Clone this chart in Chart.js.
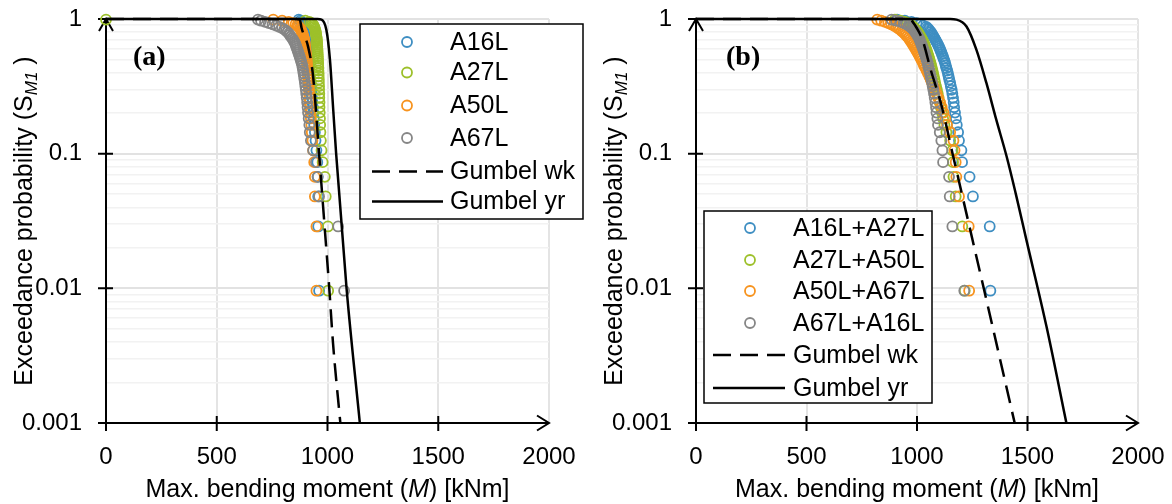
<!DOCTYPE html>
<html>
<head>
<meta charset="utf-8">
<title>Exceedance probability of max. bending moment</title>
<script src="https://cdn.jsdelivr.net/npm/chart.js@4.4.1/dist/chart.umd.min.js"></script>
<style>
  html, body { margin: 0; padding: 0; background: #fff; }
  #wrap { position: relative; width: 1172px; height: 504px; overflow: hidden; }
  canvas { position: absolute; top: 0; }
</style>
</head>
<body>
<div id="wrap">
  <canvas id="chartA" width="590" height="504" style="left:0"></canvas>
  <canvas id="chartB" width="582" height="504" style="left:590px"></canvas>
</div>
<script>
// plotting position of each ranked maximum (same for every series)
const exceed = [0.0096, 0.0288, 0.0481, 0.0673, 0.0865, 0.1058, 0.1250, 0.1442, 0.1635, 0.1827,
  0.2019, 0.2212, 0.2404, 0.2596, 0.2788, 0.2981, 0.3173, 0.3365, 0.3558, 0.3750,
  0.3942, 0.4135, 0.4327, 0.4519, 0.4712, 0.4904, 0.5096, 0.5288, 0.5481, 0.5673,
  0.5865, 0.6058, 0.6250, 0.6442, 0.6635, 0.6827, 0.7019, 0.7212, 0.7404, 0.7596,
  0.7788, 0.7981, 0.8173, 0.8365, 0.8558, 0.8750, 0.8942, 0.9135, 0.9327, 0.9519,
  0.9712, 0.9904];

const xTicks = [0, 500, 1000, 1500, 2000];
const yTicks = [0.001, 0.01, 0.1, 1];

// panel (a): max. bending moment [kNm], same order as exceed
const a16L = [962, 958, 958, 956, 954, 950, 946, 943, 940, 938, 936, 934, 932, 930, 928, 926, 924, 922, 920, 918,
  916, 914, 913, 912, 911, 910, 909, 908, 907, 906, 905, 904, 903, 902, 901, 900, 899, 898, 897, 896,
  895, 894, 893, 892, 891, 890, 889, 887, 885, 882, 878, 870];
const a27L = [1003, 1002, 992, 988, 978, 973, 970, 968, 967, 966, 965, 964, 964, 963, 963, 962, 962, 961, 961, 960,
  960, 959, 959, 958, 958, 957, 957, 956, 956, 955, 955, 954, 954, 953, 953, 952, 952, 951, 950, 949,
  948, 947, 946, 944, 942, 940, 937, 933, 927, 918, 900, 0];
const a50L = [950, 950, 943, 943, 940, 935, 932, 929, 927, 925, 923, 921, 919, 918, 917, 916, 915, 914, 913, 912,
  911, 910, 909, 908, 907, 906, 905, 904, 903, 902, 901, 900, 899, 898, 897, 896, 895, 893, 891, 889,
  887, 885, 882, 879, 875, 870, 864, 856, 845, 825, 795, 755];
const a67L = [1075, 1048, 962, 955, 948, 935, 925, 920, 918, 915, 912, 910, 908, 906, 904, 902, 900, 898, 896, 894,
  892, 890, 888, 886, 883, 880, 877, 874, 871, 868, 865, 862, 859, 856, 853, 849, 845, 840, 835, 830,
  826, 820, 813, 805, 795, 782, 768, 752, 735, 718, 700, 686];

// panel (b): two locations combined
const a16a27 = [1332, 1329, 1253, 1238, 1204, 1201, 1190, 1186, 1180, 1176, 1172, 1168, 1166, 1163, 1160, 1157, 1153, 1150, 1146, 1143,
  1140, 1137, 1133, 1130, 1127, 1124, 1120, 1117, 1113, 1110, 1106, 1103, 1099, 1095, 1091, 1087, 1083, 1079, 1075, 1071,
  1067, 1063, 1058, 1053, 1048, 1042, 1028, 1015, 998, 975, 945, 910];
const a27a50 = [1216, 1205, 1175, 1165, 1163, 1160, 1150, 1133, 1124, 1118, 1113, 1108, 1103, 1098, 1094, 1090, 1086, 1082, 1079, 1076,
  1073, 1070, 1067, 1064, 1061, 1058, 1055, 1052, 1049, 1046, 1043, 1040, 1037, 1034, 1031, 1028, 1024, 1020, 1016, 1012,
  1008, 1004, 999, 994, 989, 983, 976, 968, 958, 945, 925, 900];
const a50a67 = [1236, 1234, 1190, 1178, 1175, 1170, 1165, 1150, 1136, 1128, 1120, 1112, 1104, 1096, 1089, 1082, 1075, 1068, 1062, 1056,
  1050, 1044, 1038, 1032, 1027, 1022, 1017, 1012, 1007, 1002, 997, 992, 987, 982, 977, 972, 967, 962, 956, 950,
  944, 937, 930, 922, 914, 905, 895, 883, 870, 855, 838, 820];
const a67a16 = [1214, 1160, 1148, 1145, 1118, 1115, 1110, 1103, 1095, 1092, 1088, 1086, 1083, 1080, 1077, 1074, 1071, 1068, 1065, 1062,
  1059, 1056, 1053, 1050, 1048, 1045, 1042, 1039, 1036, 1033, 1030, 1027, 1024, 1021, 1018, 1015, 1012, 1009, 1005, 1001,
  997, 993, 988, 983, 977, 970, 962, 952, 940, 925, 905, 885];

// fitted Gumbel curves
const wkA_M = [0, 860, 875, 883, 912, 935, 962, 988, 1008, 1025, 1058];
const wkA_S = [1, 0.9995, 0.99, 0.857, 0.626, 0.375, 0.1, 0.0273, 0.01, 0.0039, 0.001];
const yrA_M = [0, 955, 973, 995, 1011, 1026, 1039, 1086, 1146];
const yrA_S = [1, 0.9995, 0.99, 0.83, 0.5, 0.21, 0.1, 0.01, 0.001];
const wkB_M = [0, 955, 970, 1000, 1025, 1062, 1110, 1161, 1302, 1442];
const wkB_S = [1, 0.9995, 0.99, 0.85, 0.70, 0.42, 0.231, 0.1, 0.01, 0.001];
const yrB_M = [0, 1150, 1178, 1224, 1269, 1314, 1359, 1405, 1450, 1495, 1586, 1676];
const yrB_S = [1, 0.9995, 0.99, 0.88, 0.59, 0.335, 0.178, 0.096, 0.048, 0.0229, 0.0052, 0.001];

const namesA = ['A16L', 'A27L', 'A50L', 'A67L'];
const namesB = ['A16L+A27L', 'A27L+A50L', 'A50L+A67L', 'A67L+A16L'];
const fitNames = ['Gumbel wk', 'Gumbel yr'];
const colors = ['#3e8ec2', '#9dc02a', '#f7931e', '#868686'];

const FONT = '"Liberation Sans", Arial, sans-serif';
const DASH = [18, 9];

// minor + major grid values for the log axis
const yGrid = [];
yTicks.slice(0, -1).forEach(d => { for (let k = 1; k < 10; k++) yGrid.push(k === 1 ? d : d * k); });
yGrid.push(yTicks[yTicks.length - 1]);

function scatterSet(label, values, color, order) {
  return {
    label,
    data: values.map((m, i) => ({ x: m, y: exceed[i] })),
    showLine: false,
    pointStyle: 'circle',
    pointRadius: 5,
    pointBorderWidth: 1.8,
    pointBorderColor: color,
    pointBackgroundColor: 'rgba(0,0,0,0)',
    borderColor: color,
    order,
    clip: false
  };
}

function fitSet(label, m, s, dash) {
  return {
    label,
    data: m.map((v, i) => ({ x: v, y: s[i] })),
    showLine: true,
    pointRadius: 0,
    borderColor: '#000',
    borderWidth: 2.5,
    borderDash: dash,
    cubicInterpolationMode: 'monotone',
    fill: false,
    order: 0,
    clip: false
  };
}

function drawRuns(ctx, runs, cx, y) {
  let total = 0;
  runs.forEach(r => { ctx.font = r.font; r.w = ctx.measureText(r.t).width; total += r.w + (r.gap || 0); });
  let x = cx - total / 2;
  runs.forEach(r => {
    ctx.font = r.font;
    ctx.fillText(r.t, x, y + (r.dy || 0));
    x += r.w + (r.gap || 0);
  });
}

const decor = {
  id: 'decor',
  beforeDatasetsDraw(chart) {
    const { ctx, chartArea: ca, scales: { x, y } } = chart;
    ctx.save();
    ctx.strokeStyle = '#000';
    ctx.lineWidth = 2;
    ctx.beginPath();
    ctx.moveTo(ca.left, ca.bottom); ctx.lineTo(ca.left, ca.top);
    ctx.moveTo(ca.left - 8, ca.bottom); ctx.lineTo(ca.right, ca.bottom);
    yTicks.forEach(v => {
      const py = y.getPixelForValue(v);
      ctx.moveTo(ca.left - 8, py); ctx.lineTo(ca.left + 7, py);
    });
    xTicks.slice(0, -1).forEach(v => {
      const px = x.getPixelForValue(v);
      ctx.moveTo(px, ca.bottom - 7); ctx.lineTo(px, ca.bottom + 8);
    });
    // arrow heads
    ctx.moveTo(ca.left - 7, ca.top + 12); ctx.lineTo(ca.left, ca.top); ctx.lineTo(ca.left + 7, ca.top + 12);
    ctx.moveTo(ca.right - 12, ca.bottom - 7.5); ctx.lineTo(ca.right, ca.bottom); ctx.lineTo(ca.right - 12, ca.bottom + 7.5);
    ctx.stroke();
    ctx.restore();
  },
  afterDraw(chart, args, o) {
    const { ctx, chartArea: ca } = chart;
    ctx.save();
    ctx.fillStyle = '#000';
    ctx.textBaseline = 'alphabetic';
    ctx.textAlign = 'left';

    // axis titles
    drawRuns(ctx, [
      { t: 'Max. bending moment (', font: '25px ' + FONT },
      { t: 'M', font: 'italic 25px ' + FONT },
      { t: ') [kNm]', font: '25px ' + FONT }
    ], (ca.left + ca.right) / 2, 497);

    ctx.save();
    ctx.translate(32, (ca.top + ca.bottom) / 2);
    ctx.rotate(-Math.PI / 2);
    drawRuns(ctx, [
      { t: 'Exceedance probability (S', font: '25px ' + FONT },
      { t: 'M1', font: 'italic 17px ' + FONT, dy: 5, gap: 7 },
      { t: ')', font: '25px ' + FONT }
    ], 0, 0);
    ctx.restore();

    // panel tag
    ctx.font = 'bold 28px "Liberation Serif", "Times New Roman", serif';
    ctx.fillText(o.tag, o.tagX, 65);

    // legend
    const lg = o.legend;
    ctx.fillStyle = '#fff';
    ctx.fillRect(lg.box[0], lg.box[1], lg.box[2], lg.box[3]);
    ctx.strokeStyle = '#000';
    ctx.lineWidth = 1.5;
    ctx.strokeRect(lg.box[0], lg.box[1], lg.box[2], lg.box[3]);
    ctx.font = '25px ' + FONT;
    ctx.textBaseline = 'middle';
    chart.data.datasets.forEach((ds, i) => {
      const ry = lg.rows[i];
      ctx.save();
      if (ds.showLine) {
        ctx.strokeStyle = ds.borderColor;
        ctx.lineWidth = 2.5;
        ctx.setLineDash(ds.borderDash || []);
        ctx.beginPath();
        ctx.moveTo(lg.lineX[0], ry); ctx.lineTo(lg.lineX[1], ry);
        ctx.stroke();
      } else {
        ctx.strokeStyle = ds.pointBorderColor;
        ctx.lineWidth = 1.8;
        ctx.beginPath();
        ctx.arc(lg.markerX, ry, 5, 0, Math.PI * 2);
        ctx.stroke();
      }
      ctx.restore();
      ctx.fillStyle = '#000';
      ctx.fillText(ds.label, lg.textX, ry + 1);
    });
    ctx.restore();
  }
};

function makePanel(id, names, series, wk, yr, padRight, deco) {
  const datasets = series.map((vals, i) => scatterSet(names[i], vals, colors[i], 4 - i));
  datasets.push(fitSet(fitNames[0], wk[0], wk[1], DASH));
  datasets.push(fitSet(fitNames[1], yr[0], yr[1], []));

  return new Chart(document.getElementById(id), {
    type: 'scatter',
    data: { datasets },
    plugins: [decor],
    options: {
      responsive: false,
      animation: false,
      events: [],
      devicePixelRatio: 1,
      layout: { padding: { left: 0, top: 19, right: padRight, bottom: 0 } },
      plugins: {
        legend: { display: false },
        tooltip: { enabled: false },
        decor: deco
      },
      scales: {
        x: {
          type: 'linear',
          min: 0,
          max: 2000,
          afterFit: s => { s.height = 81; s.paddingLeft = 0; s.paddingRight = 0; },
          afterBuildTicks: s => { s.ticks = xTicks.map(v => ({ value: v })); },
          ticks: {
            padding: 20,
            autoSkip: false,
            maxRotation: 0,
            color: '#000',
            font: { family: FONT, size: 24 },
            callback: v => String(v)
          },
          grid: { color: '#e4e4e4', lineWidth: 2, drawTicks: false },
          border: { display: false }
        },
        y: {
          type: 'logarithmic',
          min: 0.001,
          max: 1,
          afterFit: s => { s.width = 106; s.paddingTop = 0; s.paddingBottom = 0; },
          afterBuildTicks: s => { s.ticks = yGrid.map(v => ({ value: v })); },
          ticks: {
            padding: 24,
            autoSkip: false,
            color: '#000',
            font: { family: FONT, size: 24 },
            callback: v => (yTicks.includes(v) ? String(v) : '')
          },
          grid: {
            color: c => (yTicks.includes(c.tick.value) ? '#e2e2e2' : '#f2f2f2'),
            lineWidth: c => (yTicks.includes(c.tick.value) ? 2 : 1.5),
            drawTicks: false
          },
          border: { display: false }
        }
      }
    }
  });
}

makePanel('chartA', namesA, [a16L, a27L, a50L, a67L], [wkA_M, wkA_S], [yrA_M, yrA_S], 41, {
  tag: '(a)',
  tagX: 133,
  legend: {
    box: [360, 24, 223, 195],
    rows: [42, 72.5, 105.5, 138, 171.5, 201.5],
    markerX: 407,
    textX: 450,
    lineX: [372, 443]
  }
});

makePanel('chartB', namesB, [a16a27, a27a50, a50a67, a67a16], [wkB_M, wkB_S], [yrB_M, yrB_S], 34, {
  tag: '(b)',
  tagX: 136,
  legend: {
    box: [114, 211, 228, 192],
    rows: [228, 260, 291, 323, 355, 388],
    markerX: 160,
    textX: 203,
    lineX: [123, 195]
  }
});
</script>
</body>
</html>
